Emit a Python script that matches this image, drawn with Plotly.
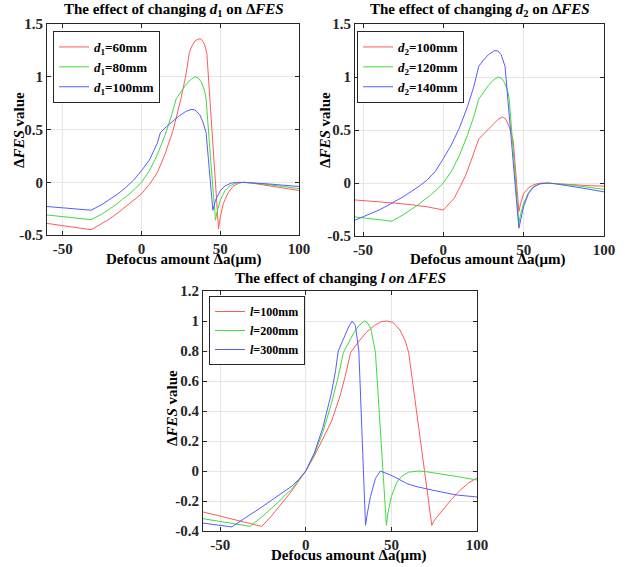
import plotly.graph_objects as go

# ---- data ----
# top-left: effect of d1
x_d1_60 = [-60, -32, -25, -20, -15, -10, -5, 0, 5, 10, 15, 20, 25, 28, 30.4, 32, 34, 36.5, 38, 40, 41.5, 44, 46, 48.9, 50, 52, 55, 58, 62, 65, 70, 80, 90, 100]
y_d1_60 = [-0.39, -0.45, -0.39, -0.345, -0.29, -0.23, -0.17, -0.11, -0.02, 0.09, 0.27, 0.49, 0.79, 1.0, 1.23, 1.29, 1.34, 1.36, 1.355, 1.31, 1.22, 0.68, 0.23, -0.44, -0.33, -0.2, -0.1, -0.04, -0.008, 0.0, -0.008, -0.03, -0.055, -0.078]
x_d1_80 = [-60, -32, -25, -20, -16, -12, -8, -4, 0, 5, 10, 15, 19, 22, 25, 28, 31, 34, 36, 38, 40, 41, 44, 47, 48, 50, 53, 56, 60, 65, 70, 80, 90, 100]
y_d1_80 = [-0.31, -0.355, -0.3, -0.25, -0.21, -0.16, -0.115, -0.06, 0.0, 0.11, 0.26, 0.45, 0.63, 0.79, 0.86, 0.92, 0.97, 1.0, 0.99, 0.95, 0.87, 0.79, 0.2, -0.36, -0.28, -0.17, -0.08, -0.035, -0.008, 0.0, -0.005, -0.02, -0.04, -0.06]
x_d1_100 = [-60, -32, -25, -20, -15, -10, -5, 0, 5, 10, 12, 16, 20, 24, 28, 31.5, 34, 37, 39, 41, 43, 45.3, 47, 50, 53, 57, 62, 70, 80, 90, 100]
y_d1_100 = [-0.23, -0.265, -0.21, -0.16, -0.11, -0.05, 0.02, 0.11, 0.21, 0.37, 0.47, 0.53, 0.58, 0.63, 0.67, 0.69, 0.685, 0.64, 0.57, 0.47, 0.13, -0.265, -0.17, -0.08, -0.035, -0.008, 0.0, -0.005, -0.015, -0.028, -0.04]

# top-right: effect of d2
x_d2_100 = [-55, -40, -30, -20, -10, 0, 3, 6.6, 10, 13.8, 17, 19, 22, 25, 28, 31, 34, 36.8, 39, 41, 43.5, 47, 48, 50, 53, 56, 59, 62, 70, 80, 90, 100]
y_d2_100 = [-0.16, -0.175, -0.19, -0.205, -0.225, -0.255, -0.21, -0.146, -0.05, 0.07, 0.2, 0.29, 0.414, 0.46, 0.51, 0.56, 0.6, 0.623, 0.6, 0.53, 0.4, -0.27, -0.2, -0.1, -0.045, -0.018, -0.005, 0.0, -0.005, -0.015, -0.025, -0.03]
x_d2_120 = [-55, -45, -32, -25, -20, -16, -12, -8, -4, 0, 5, 10, 15, 19, 22, 25, 28, 31, 34, 36, 38, 40, 41, 47, 48, 50, 53, 56, 60, 65, 70, 80, 90, 100]
y_d2_120 = [-0.32, -0.335, -0.36, -0.3, -0.25, -0.21, -0.16, -0.115, -0.06, 0.0, 0.11, 0.26, 0.45, 0.63, 0.79, 0.86, 0.92, 0.97, 1.0, 0.99, 0.95, 0.87, 0.79, -0.38, -0.3, -0.19, -0.09, -0.035, -0.008, 0.0, -0.005, -0.02, -0.04, -0.06]
x_d2_140 = [-55, -50, -45, -40, -35, -30, -25, -20, -15, -10, -5, 0, 5, 10, 15, 19, 22, 25, 28, 32, 34, 36, 38.4, 47, 48, 50, 53, 56, 60, 65, 70, 80, 90, 100]
y_d2_140 = [-0.35, -0.32, -0.29, -0.255, -0.215, -0.175, -0.13, -0.08, -0.03, 0.03, 0.11, 0.23, 0.36, 0.52, 0.72, 0.91, 1.1, 1.16, 1.21, 1.25, 1.245, 1.21, 1.1, -0.427, -0.35, -0.22, -0.1, -0.04, -0.008, 0.0, -0.008, -0.03, -0.057, -0.084]

# bottom: effect of l
x_l_100 = [-60, -25.7, -20, -16, -12, -8, -4, 0, 5, 10, 15, 20, 23, 26.2, 30, 35, 40, 44, 47.5, 51, 55, 58, 60.1, 73.6, 75, 80, 85, 90, 95, 100]
y_l_100 = [-0.273, -0.369, -0.3, -0.245, -0.19, -0.13, -0.065, 0.0, 0.1, 0.21, 0.33, 0.5, 0.63, 0.79, 0.85, 0.92, 0.97, 0.995, 1.0, 0.99, 0.94, 0.87, 0.79, -0.362, -0.33, -0.26, -0.19, -0.13, -0.08, -0.047]
x_l_200 = [-60, -32.5, -25, -20, -16, -12, -8, -4, 0, 5, 10, 15, 19, 22, 25, 28, 31, 34.3, 36, 38, 40.7, 47.1, 48, 50, 53, 56, 60, 65.9, 70, 80, 90, 100]
y_l_200 = [-0.318, -0.369, -0.3, -0.25, -0.207, -0.16, -0.118, -0.06, 0.0, 0.11, 0.26, 0.45, 0.63, 0.79, 0.86, 0.92, 0.97, 1.0, 0.99, 0.95, 0.79, -0.362, -0.28, -0.17, -0.08, -0.035, -0.008, 0.0, -0.004, -0.02, -0.04, -0.06]
x_l_300 = [-60, -43.2, -35, -30, -25, -20, -16, -12, -8, -4, 0, 5, 10, 15, 17.4, 19, 22, 25, 27.1, 29, 31, 34.9, 36, 37.8, 40.7, 43.6, 48, 52, 59, 65, 75, 88, 100]
y_l_300 = [-0.347, -0.373, -0.31, -0.275, -0.235, -0.195, -0.165, -0.13, -0.1, -0.055, 0.0, 0.12, 0.29, 0.52, 0.67, 0.8, 0.88, 0.96, 1.0, 0.97, 0.8, -0.362, -0.28, -0.17, -0.05, 0.0, -0.02, -0.04, -0.084, -0.105, -0.13, -0.16, -0.173]

x_ticks = [-50, 0, 50, 100]
x_ticktext = ["-50", "0", "50", "100"]
y_ticks_top = [-0.5, 0, 0.5, 1, 1.5]
y_ticktext_top = ["-0.5", "0", "0.5", "1", "1.5"]
y_ticks_bot = [-0.4, -0.2, 0, 0.2, 0.4, 0.6, 0.8, 1, 1.2]
y_ticktext_bot = ["-0.4", "-0.2", "0", "0.2", "0.4", "0.6", "0.8", "1", "1.2"]

RED, GREEN, BLUE = "#ff5a5a", "#3fdc3f", "#5a5aff"
FONT = "Liberation Serif"
W, H = 634, 567

# pixel positions -> paper fractions
def fx(px):
    return px / W

def fy(py):
    return 1 - py / H

fig = go.Figure()

def add(x, y, name, color, ax, leg):
    fig.add_trace(go.Scatter(x=x, y=y, mode="lines", name=name,
                             line=dict(color=color, width=1),
                             xaxis="x" + ax, yaxis="y" + ax, legend=leg))

add(x_d1_60, y_d1_60, "<i>d</i><sub>1</sub>=60mm", RED, "", "legend")
add(x_d1_80, y_d1_80, "<i>d</i><sub>1</sub>=80mm", GREEN, "", "legend")
add(x_d1_100, y_d1_100, "<i>d</i><sub>1</sub>=100mm", BLUE, "", "legend")
add(x_d2_100, y_d2_100, "<i>d</i><sub>2</sub>=100mm", RED, "2", "legend2")
add(x_d2_120, y_d2_120, "<i>d</i><sub>2</sub>=120mm", GREEN, "2", "legend2")
add(x_d2_140, y_d2_140, "<i>d</i><sub>2</sub>=140mm", BLUE, "2", "legend2")
add(x_l_100, y_l_100, "<i>l</i>=100mm", RED, "3", "legend3")
add(x_l_200, y_l_200, "<i>l</i>=200mm", GREEN, "3", "legend3")
add(x_l_300, y_l_300, "<i>l</i>=300mm", BLUE, "3", "legend3")

axis_style = dict(showgrid=True, gridcolor="#e6e6e6", gridwidth=1, showline=True,
                  linecolor="#262626", linewidth=1, mirror="ticks", ticks="inside",
                  ticklen=4, tickcolor="#262626", zeroline=False, automargin=False,
                  tickfont=dict(family=FONT, size=15, color="#262626", weight="bold"))

def xax(left, right, rng, anchor):
    return dict(axis_style, domain=[fx(left), fx(right)], range=rng, anchor=anchor,
                tickvals=x_ticks, ticktext=x_ticktext)

def yax(top, bottom, rng, anchor, tv, tt):
    return dict(axis_style, domain=[fy(bottom), fy(top)], range=rng, anchor=anchor,
                tickvals=tv, ticktext=tt)

def legend_at(left, top, size):
    return dict(bgcolor="white", bordercolor="#262626", borderwidth=1,
                font=dict(family=FONT, size=size, color="black", weight="bold"),
                xanchor="left", yanchor="top", tracegroupgap=0, itemwidth=30,
                traceorder="normal", x=fx(left), y=fy(top))

fig.update_layout(
    template="none",
    width=W, height=H, margin=dict(l=0, r=0, t=0, b=0, autoexpand=False),
    plot_bgcolor="white", paper_bgcolor="white", showlegend=True,
    xaxis=xax(47, 299, [-60, 100], "y"),
    yaxis=yax(24, 235, [-0.5, 1.5], "x", y_ticks_top, y_ticktext_top),
    xaxis2=xax(355, 604, [-55, 100], "y2"),
    yaxis2=yax(24, 236, [-0.5, 1.5], "x2", y_ticks_top, y_ticktext_top),
    xaxis3=xax(203, 477, [-60, 100], "y3"),
    yaxis3=yax(291, 531, [-0.4, 1.2], "x3", y_ticks_bot, y_ticktext_bot),
    legend=legend_at(53, 31, 13),
    legend2=legend_at(357, 31, 13),
    legend3=legend_at(209, 296, 12),
)

title_font = dict(family=FONT, size=15, color="black")
texts = [
    ("<b>The effect of changing <i>d</i><sub>1</sub> on Δ<i>FES</i></b>", 174, 10, 0),
    ("<b>The effect of changing <i>d</i><sub>2</sub> on Δ<i>FES</i></b>", 480, 10, 0),
    ("<b>The effect of changing <i>l on ΔFES</i></b>", 340, 278, 0),
    ("<b>Defocus amount Δa(μm)</b>", 183, 259, 0),
    ("<b>Defocus amount Δa(μm)</b>", 487, 259, 0),
    ("<b>Defocus amount Δa(μm)</b>", 348, 555, 0),
    ("<b>Δ<i>FES</i> value</b>", 19, 130, -90),
    ("<b>Δ<i>FES</i> value</b>", 325, 130, -90),
    ("<b>Δ<i>FES</i> value</b>", 172, 408, -90),
]
for t, px, py, ang in texts:
    fig.add_annotation(text=t, x=fx(px), y=fy(py), xref="paper", yref="paper",
                       showarrow=False, textangle=ang, font=title_font,
                       xanchor="center", yanchor="middle")

# drop the page's default body margin so the figure sits at the window's corner
fig.write_html("out.html", config={"displayModeBar": False},
               post_script="document.body.style.margin='0px';")
